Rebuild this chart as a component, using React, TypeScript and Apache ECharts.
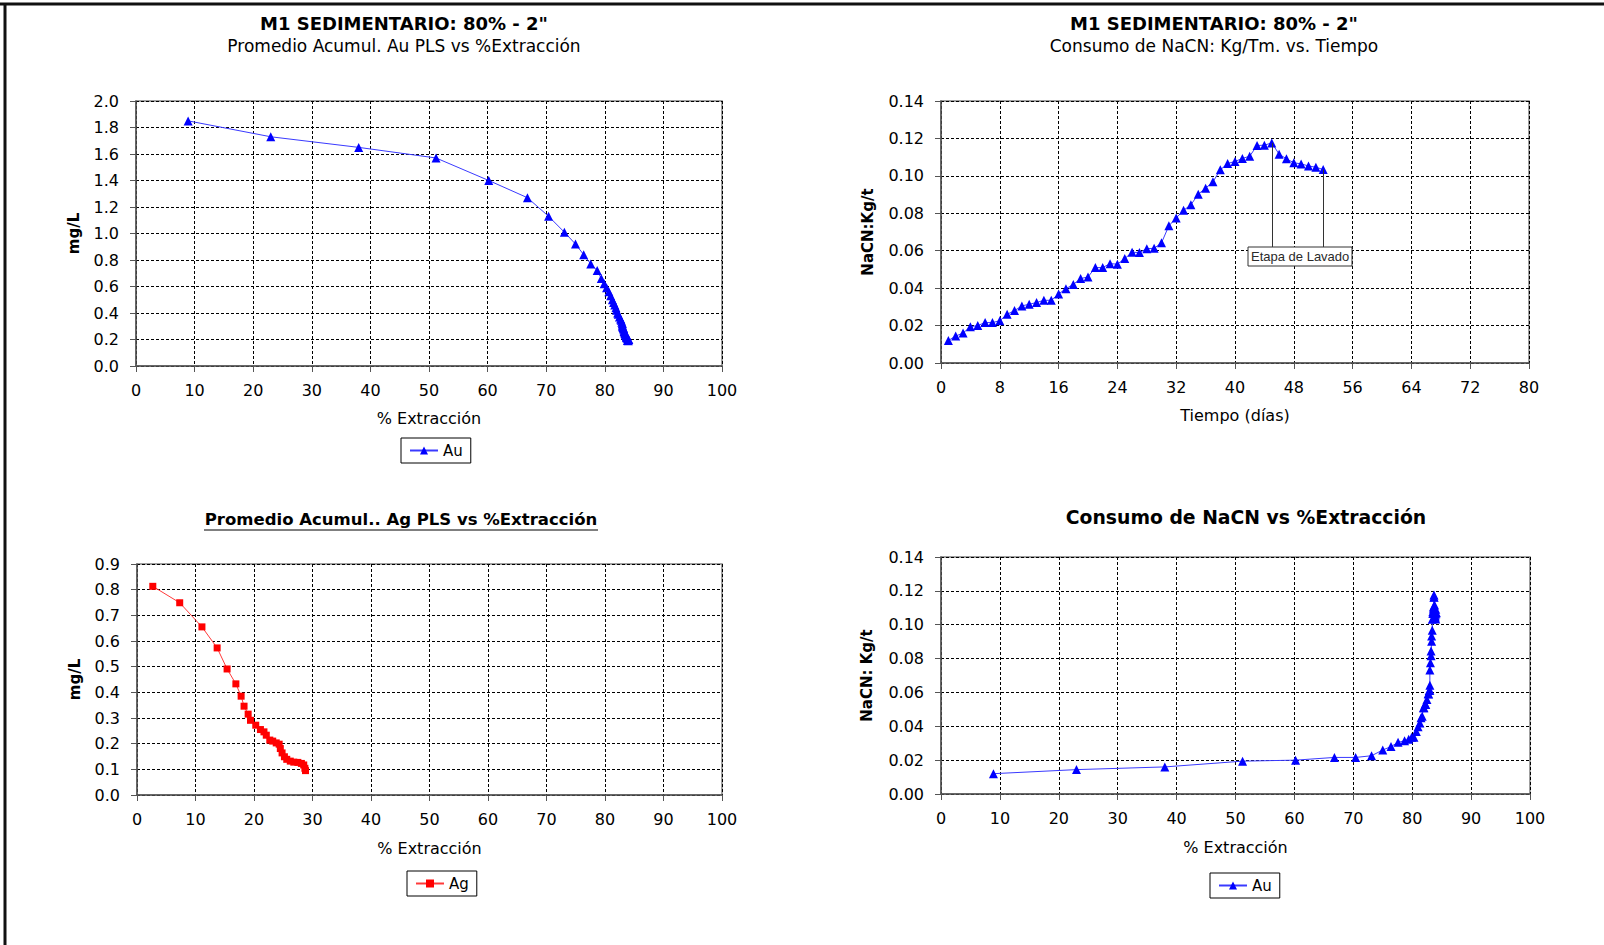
import React, { useEffect, useRef } from "react";
import * as echarts from "echarts";

// ---------- data ----------
const days = [
  1, 2, 3, 4, 5, 6, 7, 8, 9, 10, 11, 12, 13, 14, 15, 16, 17, 18, 19, 20, 21, 22, 23, 24, 25, 26,
  27, 28, 29, 30, 31, 32, 33, 34, 35, 36, 37, 38, 39, 40, 41, 42, 43, 44, 45, 46, 47, 48, 49, 50, 51, 52,
];
const nacnKgT = [
  0.012, 0.0144, 0.016, 0.0194, 0.02, 0.0216, 0.0216, 0.0226, 0.026, 0.028, 0.0305, 0.0314, 0.0323,
  0.0335, 0.0335, 0.0369, 0.0397, 0.042, 0.0451, 0.046, 0.051, 0.051, 0.0531, 0.0528, 0.0558, 0.0592,
  0.059, 0.0611, 0.0613, 0.0642, 0.0733, 0.0775, 0.0816, 0.0845, 0.0902, 0.0934, 0.0968, 0.1032,
  0.1066, 0.1077, 0.1093, 0.1105, 0.1162, 0.1164, 0.1176, 0.1116, 0.1091, 0.107, 0.1064, 0.1053,
  0.1046, 0.1034,
];
const auExtraction = [
  8.9, 23.0, 38.0, 51.2, 60.2, 66.8, 70.4, 73.1, 75.0, 76.4, 77.6, 78.7, 79.4, 79.9, 80.3, 80.7, 81.0,
  81.3, 81.5, 81.7, 81.9, 82.0, 82.2, 82.3, 82.5, 82.7, 82.8, 82.9, 83.0, 83.0, 83.0, 83.1, 83.2, 83.2,
  83.3, 83.3, 83.4, 83.4, 83.5, 83.5, 83.6, 83.6, 83.7, 83.7, 83.7, 83.8, 84.0, 84.1, 84.0, 83.9, 83.9,
  84.0,
];
const auMgL = [
  1.85, 1.73, 1.65, 1.57, 1.4, 1.27, 1.13, 1.01, 0.92, 0.84, 0.77, 0.72, 0.66, 0.62, 0.59, 0.56, 0.53,
  0.5, 0.48, 0.46, 0.44, 0.42, 0.4, 0.39, 0.37, 0.355, 0.345, 0.33, 0.32, 0.31, 0.3, 0.29, 0.285, 0.28,
  0.27, 0.26, 0.255, 0.25, 0.245, 0.24, 0.235, 0.23, 0.225, 0.22, 0.215, 0.21, 0.205, 0.2, 0.198, 0.195,
  0.192, 0.19,
];
const agExtraction = [
  2.7, 7.3, 11.1, 13.7, 15.4, 16.9, 17.8, 18.3, 19.0, 19.4, 20.3, 21.1, 21.7, 22.1, 22.7, 23.2, 23.8,
  24.3, 24.5, 24.8, 25.2, 25.6, 26.2, 26.8, 27.5, 28.1, 28.5, 28.7, 28.8,
];
const agMgL = [
  0.813, 0.749, 0.655, 0.573, 0.491, 0.433, 0.385, 0.346, 0.315, 0.291, 0.272, 0.255, 0.246, 0.233,
  0.214, 0.21, 0.203, 0.198, 0.181, 0.164, 0.149, 0.139, 0.132, 0.128, 0.127, 0.123, 0.117, 0.104,
  0.095,
];
// wash stage annotation: from day 45 to day 52
const washDays = [45, 52];
const washLabel = "Etapa de Lavado";

// axis ranges
const extAxis = { min: 0, max: 100, interval: 10 };
const dayAxis = { min: 0, max: 80, interval: 8 };
const auAxis = { min: 0, max: 2.0, interval: 0.2 };
const agAxis = { min: 0, max: 0.9, interval: 0.1 };
const nacnAxis = { min: 0, max: 0.14, interval: 0.02 };

const FONT = "'DejaVu Sans', Verdana, sans-serif";
const BLUE = "#0000ff";
const BLUE_LINE = "#3a3aff";
const RED = "#ff0000";
const RED_LINE = "#ff3a3a";

function axis(
  gridIndex: number,
  range: { min: number; max: number; interval: number },
  name: string,
  nameGap: number,
  isY: boolean,
  decimals: number
) {
  return {
    type: "value",
    gridIndex,
    min: range.min,
    max: range.max,
    interval: range.interval,
    name,
    nameLocation: "middle",
    nameGap,
    nameTextStyle: {
      fontSize: isY ? 15 : 16,
      fontWeight: isY ? "bold" : "normal",
      color: "#000",
      fontFamily: FONT,
    },
    axisLine: { show: true, onZero: false, lineStyle: { color: "#555", width: 1.5 } },
    axisTick: { show: true, length: 6, lineStyle: { color: "#555", width: 1 } },
    axisLabel: {
      fontSize: 16,
      color: "#000",
      fontFamily: FONT,
      margin: isY ? 17 : 16,
      formatter: (v: number) => v.toFixed(decimals),
    },
    splitLine: { show: true, lineStyle: { color: "#000", type: [3, 2], width: 1 } },
  };
}

function legendAt(left: number, top: number, name: string) {
  return {
    left,
    top,
    data: [name],
    orient: "horizontal",
    borderColor: "#000",
    borderWidth: 1,
    padding: [5, 8, 5, 8],
    itemWidth: 28,
    itemHeight: 10,
    itemGap: 4,
    textStyle: { fontSize: 15, color: "#000", fontFamily: FONT },
    selectedMode: false,
  };
}

export default function App() {
  const ref = useRef<HTMLDivElement>(null);

  useEffect(() => {
    document.body.style.margin = "0";
    const chart = echarts.init(ref.current!, undefined, { renderer: "svg" });

    const auCurve = auExtraction.map((x, i) => [x, auMgL[i]]);
    const nacnTime = days.map((d, i) => [d, nacnKgT[i]]);
    const agCurve = agExtraction.map((x, i) => [x, agMgL[i]]);
    const nacnExt = auExtraction.map((x, i) => [x, nacnKgT[i]]);

    const washTop = washDays.map((d) => nacnKgT[days.indexOf(d)]);
    const washBoxValue = 0.062;

    const titleStyle = { fontSize: 18, fontWeight: "bold", color: "#000", fontFamily: FONT };
    const subStyle = { fontSize: 17, color: "#000", fontFamily: FONT };

    const option: any = {
      animation: false,
      backgroundColor: "#fff",
      title: [
        {
          text: 'M1 SEDIMENTARIO: 80% - 2"',
          subtext: "Promedio Acumul. Au PLS vs %Extracción",
          left: 404,
          top: 14,
          textAlign: "center",
          padding: 0,
          itemGap: 5,
          textStyle: titleStyle,
          subtextStyle: subStyle,
        },
        {
          text: 'M1 SEDIMENTARIO: 80% - 2"',
          subtext: "Consumo de NaCN: Kg/Tm. vs. Tiempo",
          left: 1214,
          top: 14,
          textAlign: "center",
          padding: 0,
          itemGap: 5,
          textStyle: titleStyle,
          subtextStyle: subStyle,
        },
        {
          text: "Promedio Acumul.. Ag PLS vs %Extracción",
          left: 401,
          top: 511,
          textAlign: "center",
          padding: 0,
          textStyle: { ...titleStyle, fontSize: 16.5 },
        },
        {
          text: "Consumo de NaCN vs %Extracción",
          left: 1246,
          top: 508,
          textAlign: "center",
          padding: 0,
          textStyle: { ...titleStyle, fontSize: 18.8 },
        },
      ],
      legend: [
        legendAt(401, 438, "Au"),
        legendAt(407, 871, "Ag"),
        legendAt(1210, 873, "Au"),
      ],
      grid: [
        { left: 136, top: 101, width: 586, height: 265 },
        { left: 941, top: 101, width: 588, height: 262 },
        { left: 137, top: 564, width: 585, height: 231 },
        { left: 941, top: 557, width: 589, height: 237 },
      ].map((g) => ({ ...g, show: true, borderColor: "#808080", borderWidth: 1.5, backgroundColor: "transparent" })),
      xAxis: [
        axis(0, extAxis, "% Extracción", 44, false, 0),
        axis(1, dayAxis, "Tiempo (días)", 44, false, 0),
        axis(2, extAxis, "% Extracción", 45, false, 0),
        axis(3, extAxis, "% Extracción", 45, false, 0),
      ],
      yAxis: [
        axis(0, auAxis, "mg/L", 55, true, 1),
        axis(1, nacnAxis, "NaCN:Kg/t", 66, true, 2),
        axis(2, agAxis, "mg/L", 55, true, 1),
        axis(3, nacnAxis, "NaCN: Kg/t", 67, true, 2),
      ],
      series: [
        {
          name: "Au",
          type: "line",
          xAxisIndex: 0,
          yAxisIndex: 0,
          data: auCurve,
          symbol: "triangle",
          symbolSize: 9,
          itemStyle: { color: BLUE },
          lineStyle: { color: BLUE_LINE, width: 1 },
        },
        {
          name: "NaCN",
          type: "line",
          xAxisIndex: 1,
          yAxisIndex: 1,
          data: nacnTime,
          symbol: "triangle",
          symbolSize: 9,
          itemStyle: { color: BLUE },
          lineStyle: { color: BLUE_LINE, width: 1 },
          markLine: {
            silent: true,
            symbol: "none",
            label: { show: false },
            lineStyle: { color: "#333", width: 1, type: "solid" },
            data: washDays.map((d, i) => [
              { coord: [d, washTop[i]] },
              { coord: [d, washBoxValue] },
            ]),
          },
        },
        {
          name: "Ag",
          type: "line",
          xAxisIndex: 2,
          yAxisIndex: 2,
          data: agCurve,
          symbol: "rect",
          symbolSize: 7,
          itemStyle: { color: RED },
          lineStyle: { color: RED_LINE, width: 1 },
        },
        {
          name: "Au",
          type: "line",
          xAxisIndex: 3,
          yAxisIndex: 3,
          data: nacnExt,
          symbol: "triangle",
          symbolSize: 9,
          itemStyle: { color: BLUE },
          lineStyle: { color: BLUE_LINE, width: 1 },
        },
      ],
      graphic: [
        // outer frame (top and left edges)
        { type: "line", shape: { x1: 0, y1: 4, x2: 1604, y2: 4 }, style: { stroke: "#111", lineWidth: 3 } },
        { type: "line", shape: { x1: 5, y1: 3, x2: 5, y2: 945 }, style: { stroke: "#111", lineWidth: 3 } },
        // underline of the Ag chart title
        { type: "line", shape: { x1: 204, y1: 530, x2: 598, y2: 530 }, style: { stroke: "#000", lineWidth: 1.2 } },
        // wash-stage label box
        {
          type: "rect",
          z: 100,
          shape: { x: 1248, y: 247, width: 104, height: 19 },
          style: { fill: "#fff", stroke: "#333", lineWidth: 1 },
        },
        {
          type: "text",
          z: 101,
          x: 1251,
          y: 256.5,
          style: {
            text: washLabel,
            fontSize: 13,
            fill: "#2a2a2a",
            fontFamily: "'Liberation Sans', Arial, sans-serif",
            verticalAlign: "middle",
          },
        },
      ],
    };

    chart.setOption(option);
    return () => chart.dispose();
  }, []);

  return <div ref={ref} style={{ width: 1604, height: 945 }} />;
}
